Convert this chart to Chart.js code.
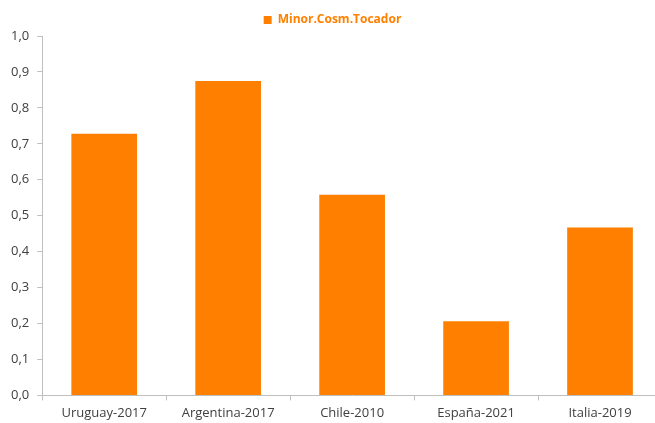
<!DOCTYPE html>
<html>
<head>
<meta charset="utf-8">
<script src="https://cdn.jsdelivr.net/npm/chart.js@4.4.0/dist/chart.umd.min.js"></script>
<style>
  html, body { margin: 0; padding: 0; background: #fff; overflow: hidden; }
  #wrap { width: 662px; height: 423px; position: relative; }
</style>
</head>
<body>
<div id="wrap"><canvas id="chart"></canvas></div>
<script>
const categories = ['Uruguay-2017', 'Argentina-2017', 'Chile-2010', 'España-2021', 'Italia-2019'];
const seriesName = 'Minor.Cosm.Tocador';
const values = [0.728, 0.875, 0.558, 0.206, 0.467];

const orange = '#FF8000';
const axisGrey = '#BFBFBF';
const labelColor = '#404040';

let ctx = document.getElementById('chart').getContext('2d');
new Chart(ctx, {
    type: 'bar',
    data: {
        labels: categories,
        datasets: [{
            label: seriesName,
            data: values,
            backgroundColor: orange,
            borderWidth: 0,
            categoryPercentage: 1,
            barPercentage: 0.53,
        }],
    },
    options: {
        responsive: true,
        maintainAspectRatio: false,
        animation: false,
        layout: { padding: { top: 2, right: 0, bottom: -3, left: 3 } },
        plugins: {
            tooltip: { enabled: false },
            legend: {
                position: 'top',
                labels: {
                    color: orange,
                    boxWidth: 8,
                    boxHeight: 8,
                    padding: 12,
                    font: { family: 'Open Sans', size: 12, weight: 'bold' },
                },
            },
        },
        scales: {
            x: {
                grid: {
                    offset: true,
                    drawOnChartArea: false,
                    drawTicks: true,
                    tickLength: 5,
                    color: axisGrey,
                },
                border: { color: axisGrey },
                ticks: {
                    color: labelColor,
                    padding: 5,
                    font: { family: 'Open Sans', size: 13 },
                },
            },
            y: {
                min: 0,
                max: 1,
                grid: {
                    drawOnChartArea: false,
                    drawTicks: true,
                    tickLength: 5,
                    color: axisGrey,
                },
                border: { color: axisGrey },
                ticks: {
                    stepSize: 0.1,
                    color: labelColor,
                    padding: 8,
                    font: { family: 'Open Sans', size: 13 },
                    callback: (v) => v.toFixed(1).replace('.', ','),
                },
            },
        },
    },
});
</script>
</body>
</html>
